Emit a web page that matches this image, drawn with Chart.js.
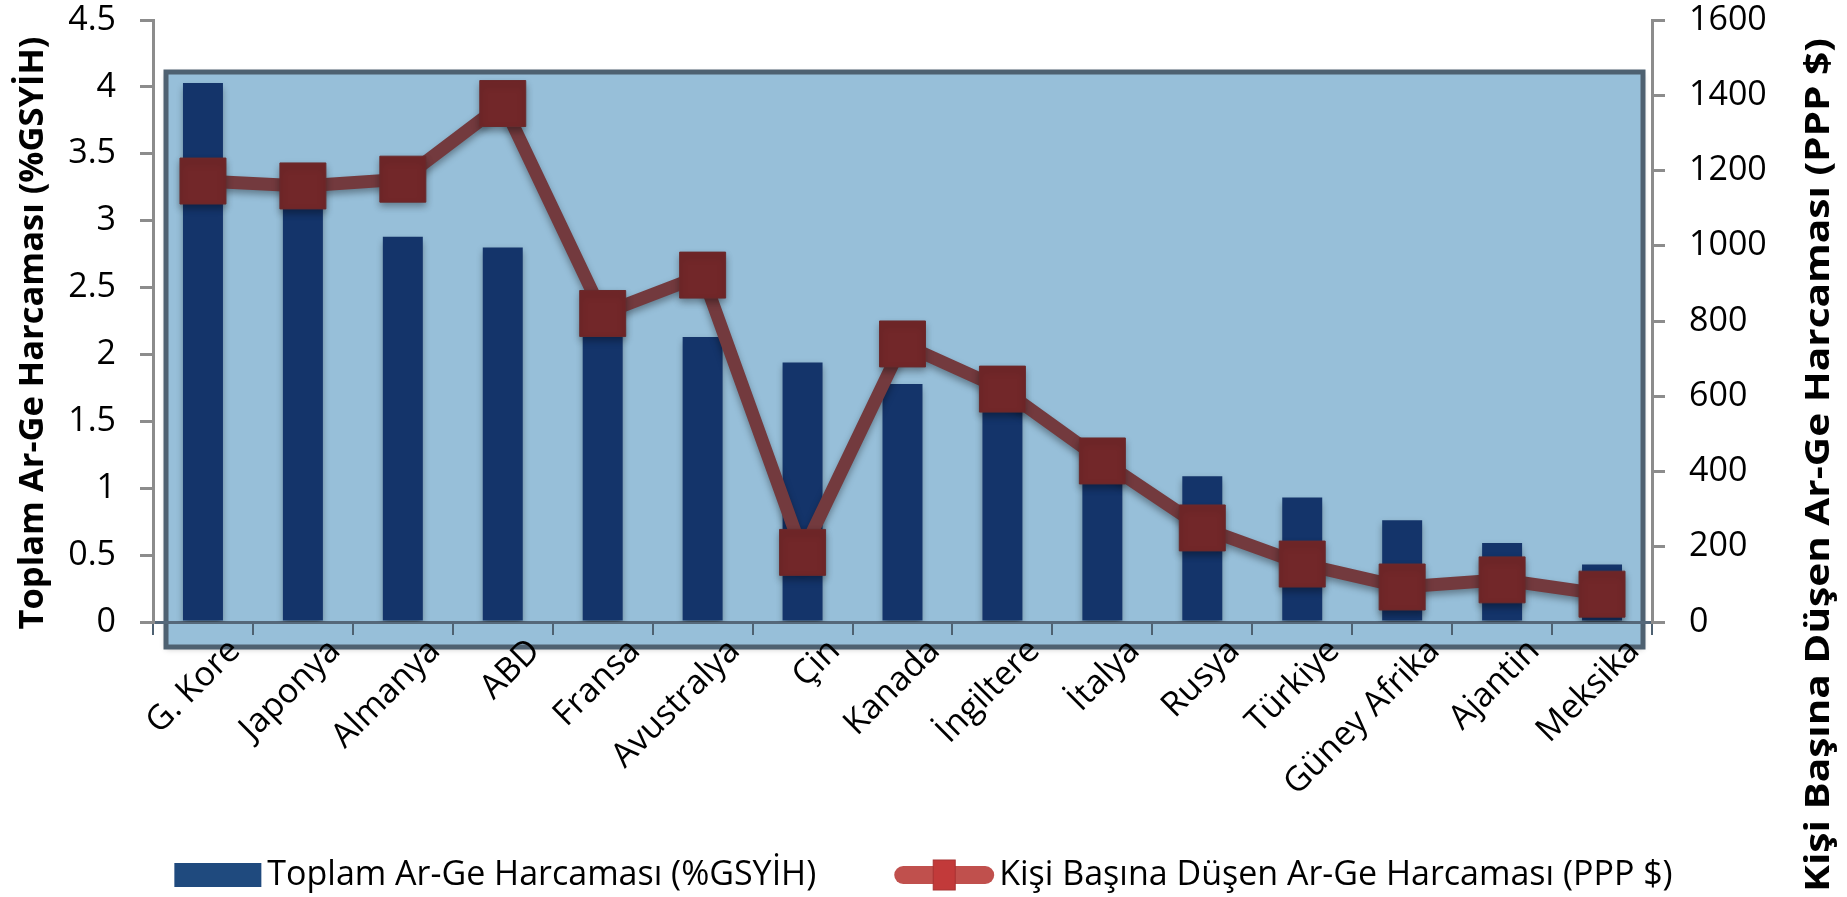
<!DOCTYPE html>
<html lang="tr">
<head>
<meta charset="utf-8">
<title>Ar-Ge Harcamaları</title>
<script src="https://cdn.jsdelivr.net/npm/chart.js@4.4.1/dist/chart.umd.min.js"></script>
<style>
    html, body { margin: 0; padding: 0; background: #fff; }
    #wrap { width: 1847px; height: 897px; position: relative; }
</style>
</head>
<body>
<div id="wrap"><canvas id="argeChart"></canvas></div>
<script>
// Veriler
const ulkeler = ['G. Kore', 'Japonya', 'Almanya', 'ABD', 'Fransa', 'Avustralya', 'Çin', 'Kanada',
    'İngiltere', 'İtalya', 'Rusya', 'Türkiye', 'Güney Afrika', 'Ajantin', 'Meksika'];
const toplamArge = [4.03, 3.35, 2.88, 2.80, 2.25, 2.13, 1.94, 1.78, 1.77, 1.25, 1.09, 0.93, 0.76, 0.59, 0.43];
const kisiBasinaArge = [1172, 1159, 1177, 1378, 820, 922, 185, 739, 619, 428, 250, 154, 93, 112, 74];

// Eksen aralıkları: [min, max, adım]
const solEksen = [0, 4.5, 0.5];
const sagEksen = [0, 1600, 200];

const barEtiket = 'Toplam Ar-Ge Harcaması (%GSYİH)';
const cizgiEtiket = 'Kişi Başına Düşen Ar-Ge Harcaması (PPP $)';

const FONT = '"Open Sans", "DejaVu Sans", sans-serif';
const AXIS_GRAY = '#8c8c8c';
const BOX_EDGE = '#4e6171';

// Mavi çerçeveli çizim alanı (grafik alanından biraz taşan kutu)
const plotBoxPlugin = {
    id: 'plotBox',
    beforeDraw(chart) {
        const { ctx, chartArea: ca } = chart;
        const x = ca.left + 13, y = 72;
        const w = (ca.right - 9) - x, h = (ca.bottom + 25) - y;
        ctx.save();
        ctx.shadowColor = 'rgba(0,0,0,0.25)';
        ctx.shadowBlur = 6;
        ctx.shadowOffsetY = 2;
        ctx.fillStyle = '#97bfd9';
        ctx.fillRect(x, y, w, h);
        ctx.restore();
        ctx.save();
        ctx.strokeStyle = BOX_EDGE;
        ctx.lineWidth = 5;
        ctx.strokeRect(x, y, w, h);
        ctx.restore();
    }
};

// Çubuk ve işaretlere hafif gölge
const shadowPlugin = {
    id: 'markShadow',
    beforeDatasetDraw(chart) {
        const ctx = chart.ctx;
        ctx.save();
        ctx.shadowColor = 'rgba(0,0,0,0.35)';
        ctx.shadowBlur = 7;
        ctx.shadowOffsetY = 4;
    },
    afterDatasetDraw(chart) {
        chart.ctx.restore();
    }
};

// Eksen başlıkları (dikey, kalın) - metin verilen uzunluğa yayılır
const axisTitlePlugin = {
    id: 'axisTitles',
    afterDraw(chart) {
        const ctx = chart.ctx;
        ctx.save();
        ctx.font = 'bold 34px ' + FONT;
        ctx.fillStyle = '#000';
        ctx.textAlign = 'center';
        ctx.textBaseline = 'alphabetic';
        const draw = (text, x, y, len) => {
            const sx = len / ctx.measureText(text).width;
            ctx.save();
            ctx.translate(x, y);
            ctx.rotate(-Math.PI / 2);
            ctx.scale(sx, 1);
            ctx.fillText(text, 0, 0);
            ctx.restore();
        };
        draw(barEtiket, 43, 333, 593);
        draw(cizgiEtiket, 1829, 465, 854);
        ctx.restore();
    }
};

// Alt gösterge
const legendPlugin = {
    id: 'altGosterge',
    afterDraw(chart) {
        const ctx = chart.ctx;
        const cy = 875;
        ctx.save();
        ctx.font = '34px ' + FONT;
        const w1 = ctx.measureText(barEtiket).width;
        const w2 = ctx.measureText(cizgiEtiket).width;
        const total = 87 + 6 + w1 + 78 + 100 + 5 + w2;
        let x = (chart.width - total) / 2;

        ctx.fillStyle = '#1f4a7e';
        ctx.fillRect(x, cy - 12, 87, 24);
        x += 93;
        ctx.fillStyle = '#000';
        ctx.textBaseline = 'middle';
        ctx.fillText(barEtiket, x, cy);
        x += w1 + 78;

        ctx.strokeStyle = '#c0504d';
        ctx.lineWidth = 18;
        ctx.lineCap = 'round';
        ctx.beginPath();
        ctx.moveTo(x + 9, cy);
        ctx.lineTo(x + 91, cy);
        ctx.stroke();
        ctx.fillStyle = '#c23a3a';
        ctx.fillRect(x + 39, cy - 15, 22, 30);
        ctx.strokeStyle = '#a83232';
        ctx.lineWidth = 1;
        ctx.strokeRect(x + 39, cy - 15, 22, 30);
        x += 105;

        ctx.fillStyle = '#000';
        ctx.fillText(cizgiEtiket, x, cy);
        ctx.restore();
    }
};

function yTicks(pos, range, width) {
    return {
        type: 'linear',
        position: pos,
        min: range[0],
        max: range[1],
        afterFit(scale) {
            scale.width = width;
            // tepe etiketinin yarısı kadar boşluk yeter
            scale.paddingTop = 20;
            scale.paddingBottom = 20;
        },
        ticks: {
            stepSize: range[2],
            color: '#000',
            font: { family: FONT, size: 34 },
            padding: 24,
            callback: v => String(v)
        },
        grid: { drawOnChartArea: false, tickLength: 13, color: AXIS_GRAY, lineWidth: 3 },
        border: { color: AXIS_GRAY, width: 3 }
    };
}

onReady(function() {
    const ctx = document.getElementById('argeChart').getContext('2d');
    new Chart(ctx, {
        data: {
            labels: ulkeler,
            datasets: [
                {
                    type: 'line',
                    label: cizgiEtiket,
                    data: kisiBasinaArge,
                    yAxisID: 'ySag',
                    order: 0,
                    borderColor: '#733a3e',
                    borderWidth: 13,
                    tension: 0,
                    pointStyle: 'rect',
                    pointRadius: 32.5,
                    pointHoverRadius: 32.5,
                    pointBackgroundColor: '#722729',
                    pointBorderColor: '#6a2a2c',
                    pointBorderWidth: 1
                },
                {
                    type: 'bar',
                    label: barEtiket,
                    data: toplamArge,
                    yAxisID: 'ySol',
                    order: 1,
                    backgroundColor: '#14346a',
                    barPercentage: 0.4,
                    categoryPercentage: 1.0
                }
            ]
        },
        options: {
            responsive: true,
            maintainAspectRatio: false,
            animation: false,
            // büyük kare işaretler yüzünden ekstra boşluk bırakılmasın
            layout: { autoPadding: false, padding: 0 },
            plugins: {
                legend: { display: false },
                tooltip: { enabled: false }
            },
            scales: {
                x: {
                    type: 'category',
                    offset: true,
                    afterFit(scale) { scale.height = 275; },
                    ticks: {
                        color: '#000',
                        font: { family: FONT, size: 34 },
                        minRotation: 45,
                        maxRotation: 45,
                        autoSkip: false,
                        padding: -4,
                        labelOffset: 32
                    },
                    grid: { offset: true, drawOnChartArea: false, tickLength: 13, color: BOX_EDGE, lineWidth: 2 },
                    border: { color: '#55687a', width: 3 }
                },
                ySol: yTicks('left', solEksen, 153),
                ySag: yTicks('right', sagEksen, 195)
            }
        },
        plugins: [plotBoxPlugin, shadowPlugin, axisTitlePlugin, legendPlugin]
    });
});

function onReady(callback) {
    if (document.readyState === 'loading') {
        document.addEventListener('DOMContentLoaded', callback);
    } else {
        callback();
    }
}
</script>
</body>
</html>
